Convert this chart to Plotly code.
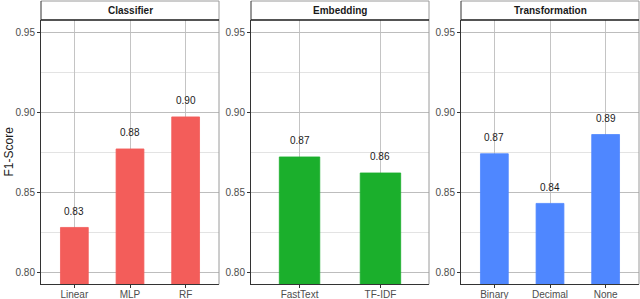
import plotly.graph_objects as go

# ---- data ----
panel_titles = ["Classifier", "Embedding", "Transformation"]
classifier_cats = ["Linear", "MLP", "RF"]
classifier_vals = [0.828, 0.877, 0.897]
embedding_cats = ["FastText", "TF-IDF"]
embedding_vals = [0.872, 0.862]
transform_cats = ["Binary", "Decimal", "None"]
transform_vals = [0.874, 0.843, 0.886]
y_ticks = [0.80, 0.85, 0.90, 0.95]
colors = ["#F35D5A", "#1BAF2C", "#4F87FF"]

panels = [
    (classifier_cats, classifier_vals),
    (embedding_cats, embedding_vals),
    (transform_cats, transform_vals),
]

W, H = 640, 299
px_left = [41, 251, 461]
px_right = [219, 429, 639]
top_px, bot_px, strip_top = 20, 284.3, 1
ymin, ymax = 0.7925, 0.9575

fig = go.Figure()
shapes = []
annotations = []
FONT = "Liberation Sans, Arial, sans-serif"

for i, ((cats, vals), title, col) in enumerate(zip(panels, panel_titles, colors)):
    n = i + 1
    xa = "x" if n == 1 else f"x{n}"
    ya = "y" if n == 1 else f"y{n}"
    fig.add_trace(go.Bar(
        x=cats, y=vals, base=0, width=0.5,
        marker=dict(color=col, line=dict(color=col, width=0.8)),
        xaxis=xa, yaxis=ya, showlegend=False, hoverinfo="x+y",
    ))
    # value labels
    for c, v in zip(cats, vals):
        annotations.append(dict(
            x=c, y=v, xref=xa, yref=ya, text=f"{v:.2f}", showarrow=False,
            yshift=16, yanchor="middle",
            font=dict(family=FONT, size=10, color="#1a1a1a"),
        ))
    x0 = px_left[i] / W
    x1 = px_right[i] / W
    y0 = (H - bot_px) / H
    y1 = (H - top_px) / H
    lay_x = "xaxis" if n == 1 else f"xaxis{n}"
    lay_y = "yaxis" if n == 1 else f"yaxis{n}"
    fig.update_layout({
        lay_x: dict(
            domain=[x0, x1], anchor=ya, type="category",
            range=[-0.6, len(cats) - 0.4], automargin=False,
            showgrid=True, gridcolor="#c4c4c4", gridwidth=1,
            ticks="outside", ticklen=3, tickcolor="#333333",
            ticklabelstandoff=-2,
            tickfont=dict(family=FONT, size=10, color="#4d4d4d"),
            showline=True, linecolor="#333333", linewidth=1,
            zeroline=False, fixedrange=True,
        ),
        lay_y: dict(
            domain=[y0, y1], anchor=xa, range=[ymin, ymax], automargin=False,
            tickvals=y_ticks, ticktext=[f"{t:.2f}" for t in y_ticks],
            showgrid=True, gridcolor="#bdbdbd", gridwidth=1,
            minor=dict(dtick=0.05, tick0=0.825, showgrid=True,
                       gridcolor="#e3e3e3", gridwidth=1),
            ticks="outside", ticklen=3, tickcolor="#333333",
            tickfont=dict(family=FONT, size=10, color="#4d4d4d"),
            showline=True, linecolor="#333333", linewidth=1,
            zeroline=False, fixedrange=True,
        ),
    })
    # right border of panel
    shapes.append(dict(type="line", xref="paper", yref="paper",
                       x0=x1, x1=x1, y0=y0, y1=(H - strip_top) / H,
                       line=dict(color="#9a9a9a", width=1)))
    # strip box
    shapes.append(dict(type="line", xref="paper", yref="paper",
                       x0=x0, x1=x1, y0=(H - strip_top) / H, y1=(H - strip_top) / H,
                       line=dict(color="#9a9a9a", width=1)))
    shapes.append(dict(type="line", xref="paper", yref="paper",
                       x0=x0, x1=x0, y0=y1, y1=(H - strip_top) / H,
                       line=dict(color="#333333", width=1)))
    shapes.append(dict(type="line", xref="paper", yref="paper",
                       x0=x0, x1=x1, y0=y1, y1=y1,
                       line=dict(color="#1a1a1a", width=1.5)))
    annotations.append(dict(
        x=(x0 + x1) / 2, y=(H - (strip_top + top_px) / 2) / H,
        xref="paper", yref="paper", text=f"<b>{title}</b>", showarrow=False,
        font=dict(family=FONT, size=10, color="#1a1a1a"),
        xanchor="center", yanchor="middle",
    ))

annotations.append(dict(
    x=8.5 / W, y=(H - 152) / H, xref="paper", yref="paper",
    text="F1-Score", textangle=-90, showarrow=False,
    font=dict(family=FONT, size=12, color="#1a1a1a"),
    xanchor="center", yanchor="middle",
))

fig.update_layout(
    width=W, height=H,
    margin=dict(l=0, r=0, t=0, b=0),
    paper_bgcolor="white", plot_bgcolor="white",
    shapes=shapes, annotations=annotations,
    bargap=0.5,
)

fig.write_html(
    "out.html",
    config={"displayModeBar": False},
    post_script="document.body.style.margin='0px';document.body.style.padding='0px';document.body.style.overflow='hidden';",
)
